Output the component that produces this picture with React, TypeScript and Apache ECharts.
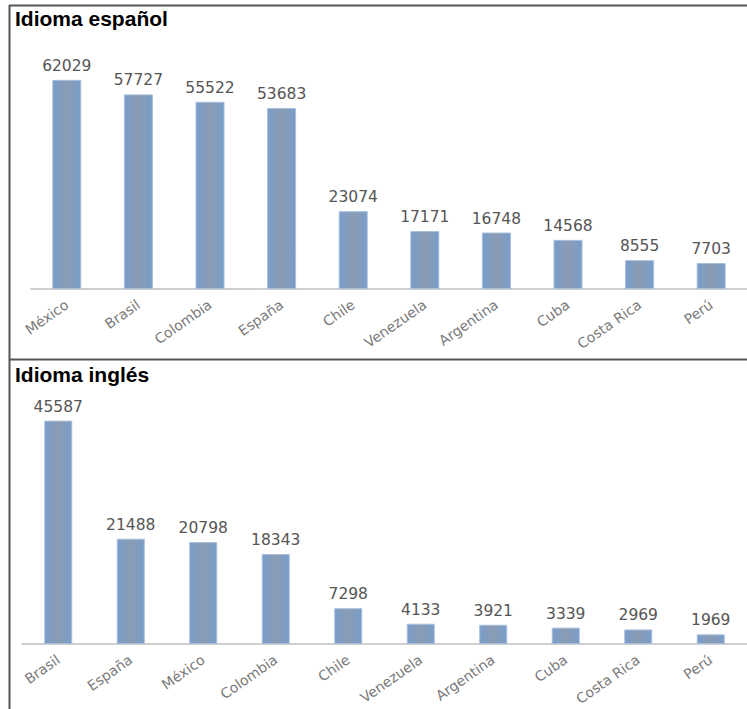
import React, { useEffect, useRef } from "react";
import * as echarts from "echarts";

const titleEs = "Idioma español";
const titleEn = "Idioma inglés";
const catsEs = ["México", "Brasil", "Colombia", "España", "Chile", "Venezuela", "Argentina", "Cuba", "Costa Rica", "Perú"];
const valsEs = [62029, 57727, 55522, 53683, 23074, 17171, 16748, 14568, 8555, 7703];
const catsEn = ["Brasil", "España", "México", "Colombia", "Chile", "Venezuela", "Argentina", "Cuba", "Costa Rica", "Perú"];
const valsEn = [45587, 21488, 20798, 18343, 7298, 4133, 3921, 3339, 2969, 1969];

const barColor = new echarts.graphic.LinearGradient(0, 0, 1, 0, [
  { offset: 0, color: "#789dcb" },
  { offset: 0.5, color: "#8b9cb2" },
  { offset: 1, color: "#789dcb" },
]);

export default function App() {
  const ref = useRef<HTMLDivElement>(null);
  useEffect(() => {
    if (!ref.current) return;
    const chart = echarts.init(ref.current, undefined, { renderer: "svg" });
    const axisLabel = {
      interval: 0,
      rotate: 35,
      margin: 14,
      color: "#7a7a7a",
      fontSize: 14,
      fontFamily: "DejaVu Sans",
    };
    const valueLabel = {
      show: true,
      position: "top",
      distance: 6,
      color: "#555555",
      fontSize: 15.5,
      fontFamily: "DejaVu Sans",
    };
    const titleStyle = {
      fontFamily: "Liberation Sans",
      fontWeight: "bold",
      fontSize: 21,
      color: "#000",
    };
    chart.setOption({
      animation: false,
      backgroundColor: "#fff",
      title: [
        { text: titleEs, left: 15, top: 8, padding: 0, textStyle: titleStyle },
        { text: titleEn, left: 15, top: 364, padding: 0, textStyle: titleStyle },
      ],
      grid: [
        { left: 31, width: 723, top: 53, height: 236 },
        { left: 22, width: 734, top: 399, height: 245 },
      ],
      xAxis: [
        {
          type: "category",
          gridIndex: 0,
          data: catsEs,
          axisLine: { lineStyle: { color: "#bfbfbf", width: 1.5 } },
          axisTick: { show: false },
          axisLabel,
        },
        {
          type: "category",
          gridIndex: 1,
          data: catsEn,
          axisLine: { lineStyle: { color: "#bfbfbf", width: 1.5 } },
          axisTick: { show: false },
          axisLabel,
        },
      ],
      yAxis: [
        { type: "value", gridIndex: 0, min: 0, max: 70000, show: false, splitLine: { show: false } },
        { type: "value", gridIndex: 1, min: 0, max: 50000, show: false, splitLine: { show: false } },
      ],
      series: [
        {
          type: "bar",
          xAxisIndex: 0,
          yAxisIndex: 0,
          data: valsEs,
          barWidth: 29,
          itemStyle: { color: barColor, borderColor: "#a8bedb", borderWidth: 1 },
          label: valueLabel,
        },
        {
          type: "bar",
          xAxisIndex: 1,
          yAxisIndex: 1,
          data: valsEn,
          barWidth: 28,
          itemStyle: { color: barColor, borderColor: "#a8bedb", borderWidth: 1 },
          label: valueLabel,
        },
      ],
      graphic: [
        { type: "line", shape: { x1: 9.5, y1: 5, x2: 9.5, y2: 709 }, style: { stroke: "#555", lineWidth: 2 } },
        { type: "line", shape: { x1: 9, y1: 5.5, x2: 747, y2: 5.5 }, style: { stroke: "#555", lineWidth: 2 } },
        { type: "line", shape: { x1: 9, y1: 359.5, x2: 747, y2: 359.5 }, style: { stroke: "#555", lineWidth: 2 } },
      ],
    });
    return () => chart.dispose();
  }, []);
  return (
    <div style={{ position: "fixed", left: 0, top: 0, width: 747, height: 709, overflow: "hidden", background: "#fff" }}>
      <div ref={ref} style={{ width: 747, height: 709 }} />
    </div>
  );
}
